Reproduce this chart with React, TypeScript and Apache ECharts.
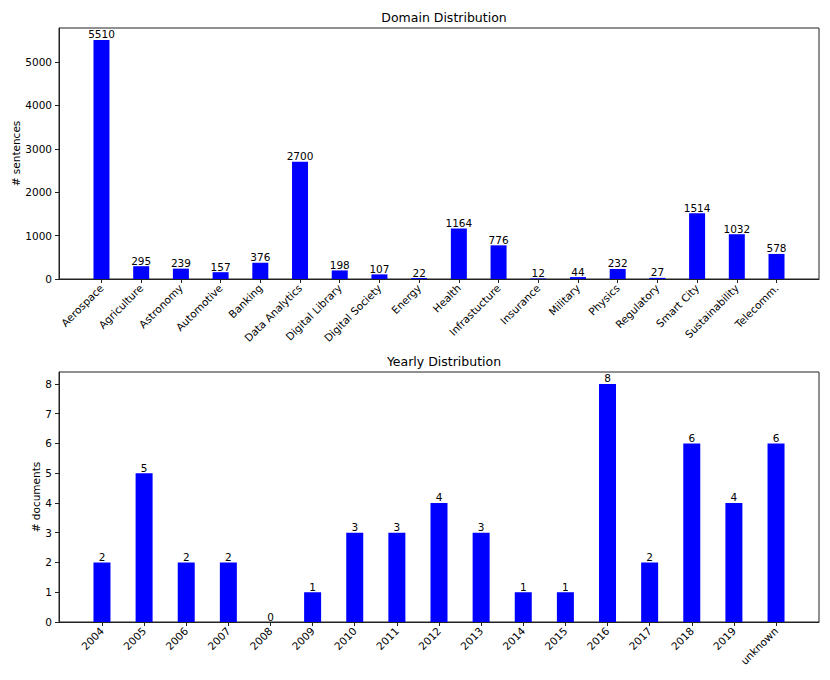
import React, { useEffect, useRef } from "react";
import * as echarts from "echarts";

const domainCategories = [
  "Aerospace", "Agriculture", "Astronomy", "Automotive", "Banking", "Data Analytics",
  "Digital Library", "Digital Society", "Energy", "Health", "Infrastucture", "Insurance",
  "Military", "Physics", "Regulatory", "Smart City", "Sustainability", "Telecomm.",
];
const domainValues = [5510, 295, 239, 157, 376, 2700, 198, 107, 22, 1164, 776, 12, 44, 232, 27, 1514, 1032, 578];

const yearCategories = [
  "2004", "2005", "2006", "2007", "2008", "2009", "2010", "2011", "2012", "2013",
  "2014", "2015", "2016", "2017", "2018", "2019", "unknown",
];
const yearValues = [2, 5, 2, 2, 0, 1, 3, 3, 4, 3, 1, 1, 8, 2, 6, 4, 6];

const domainYTicks = [0, 1000, 2000, 3000, 4000, 5000];
const yearYTicks = [0, 1, 2, 3, 4, 5, 6, 7, 8];

const FONT = "DejaVu Sans";

export default function App() {
  const ref = useRef<HTMLDivElement>(null);
  useEffect(() => {
    if (!ref.current) return;
    const chart = echarts.init(ref.current, null, { renderer: "svg" });
    const idx = (arr: string[]) => arr.map((_, i) => i);
    const frame = "#222";
    const mkX = (cats: string[], gridIndex: number, min: number, max: number) => ({
      type: "value",
      gridIndex,
      min,
      max,
      splitLine: { show: false },
      axisLine: { show: true, onZero: false, lineStyle: { color: frame, width: 1 } },
      axisTick: { show: true, length: 4, customValues: idx(cats), lineStyle: { color: frame } },
      axisLabel: {
        customValues: idx(cats),
        formatter: (v: number) => cats[Math.round(v)] ?? "",
        rotate: 45,
        margin: 7,
        fontSize: 10.5,
        fontFamily: FONT,
        color: "#000",
      },
    });
    const mkY = (gridIndex: number, max: number, ticks: number[], name: string, nameGap: number) => ({
      type: "value",
      gridIndex,
      min: 0,
      max,
      name,
      nameLocation: "middle",
      nameRotate: 90,
      nameGap,
      nameMoveOverlap: false,
      nameTextStyle: { fontSize: 10.5, fontFamily: FONT, color: "#000" },
      splitLine: { show: false },
      axisLine: { show: true, onZero: false, lineStyle: { color: frame, width: 1 } },
      axisTick: { show: true, length: 4, customValues: ticks, lineStyle: { color: frame } },
      axisLabel: {
        customValues: ticks,
        formatter: (v: number) => String(v),
        margin: 7,
        fontSize: 10.5,
        fontFamily: FONT,
        color: "#000",
      },
    });
    const labelCfg = {
      show: true,
      position: "top",
      distance: 0,
      fontSize: 10.5,
      fontFamily: FONT,
      color: "#000",
      formatter: (p: any) => String(p.value[1]),
    };
    chart.setOption({
      animation: false,
      backgroundColor: "#fff",
      textStyle: { fontFamily: FONT },
      title: [
        {
          text: "Domain Distribution",
          left: 439,
          top: 6,
          textAlign: "center",
          textStyle: { fontSize: 12.5, fontWeight: "normal", color: "#000", fontFamily: FONT },
        },
        {
          text: "Yearly Distribution",
          left: 439,
          top: 350,
          textAlign: "center",
          textStyle: { fontSize: 12.5, fontWeight: "normal", color: "#000", fontFamily: FONT },
        },
      ],
      grid: [
        { left: 59, top: 28, width: 760, height: 251, show: true, borderColor: frame, borderWidth: 1, backgroundColor: "transparent" },
        { left: 59, top: 372, width: 760, height: 250, show: true, borderColor: frame, borderWidth: 1, backgroundColor: "transparent" },
      ],
      xAxis: [
        mkX(domainCategories, 0, -1.07, 18.07),
        mkX(yearCategories, 1, -1.02, 17.02),
      ],
      yAxis: [
        mkY(0, 5785.5, domainYTicks, "# sentences", 38),
        mkY(1, 8.4, yearYTicks, "# documents", 18),
      ],
      series: [
        {
          type: "bar",
          xAxisIndex: 0,
          yAxisIndex: 0,
          barWidth: 16,
          itemStyle: { color: "#0000ff" },
          label: labelCfg,
          data: domainValues.map((v, i) => [i, v]),
        },
        {
          type: "bar",
          xAxisIndex: 1,
          yAxisIndex: 1,
          barWidth: 17,
          itemStyle: { color: "#0000ff" },
          label: labelCfg,
          data: yearValues.map((v, i) => [i, v]),
        },
      ],
    });
    return () => chart.dispose();
  }, []);
  return (
    <div
      ref={ref}
      style={{ position: "absolute", left: 0, top: 0, width: 830, height: 680, background: "#fff" }}
    />
  );
}
